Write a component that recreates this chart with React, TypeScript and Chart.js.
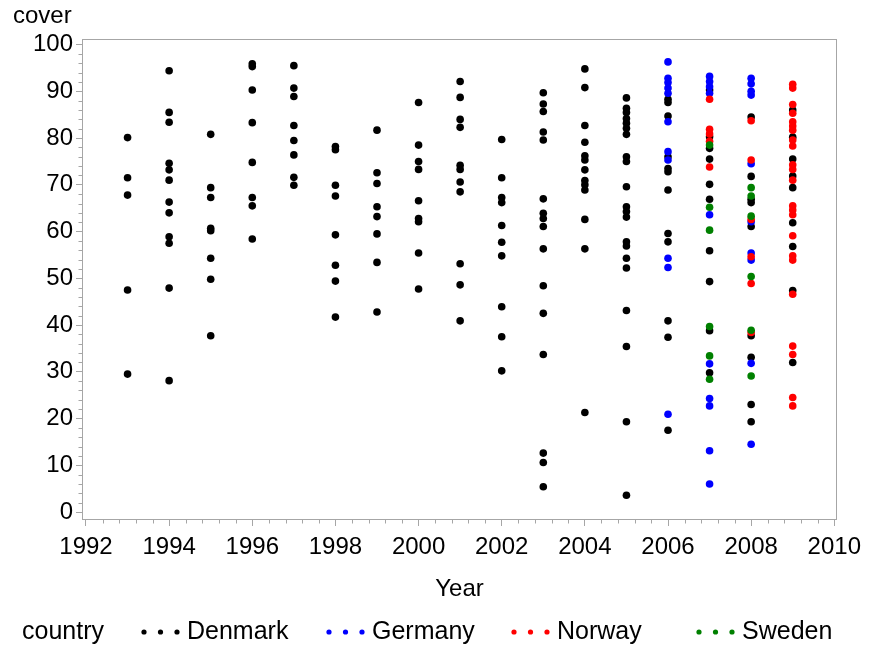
import { useEffect, useRef } from 'react';
import { Chart, registerables } from 'chart.js';

Chart.register(...registerables);

// ---------- data ----------
const denmarkYears = [1993, 1994, 1995, 1996, 1997, 1998, 1999, 2000, 2001, 2002, 2003, 2004, 2005, 2006, 2007, 2008, 2009];
const denmarkCover: number[][] = [
  [80.1, 71.5, 67.8, 47.5, 29.5],
  [94.4, 85.5, 83.4, 74.6, 73.2, 71.0, 66.3, 64.0, 58.9, 57.5, 47.9, 28.1],
  [80.8, 69.4, 67.3, 60.7, 60.2, 54.3, 49.8, 37.7],
  [95.9, 95.3, 90.3, 83.3, 74.8, 67.3, 65.5, 58.4],
  [95.5, 90.7, 88.9, 82.7, 79.5, 76.4, 71.6, 69.9],
  [78.2, 77.5, 69.9, 67.6, 59.3, 52.8, 49.4, 41.7],
  [81.7, 72.6, 70.3, 65.3, 63.2, 59.5, 53.4, 42.8],
  [87.6, 78.5, 75.0, 73.3, 66.6, 62.8, 62.1, 55.4, 47.7],
  [92.1, 88.7, 84.0, 82.3, 74.2, 73.3, 70.6, 68.5, 53.1, 48.6, 40.9],
  [79.7, 71.5, 67.3, 66.2, 61.3, 57.7, 54.8, 43.9, 37.5, 30.2],
  [89.7, 87.3, 85.7, 81.3, 79.6, 67.0, 63.9, 62.8, 61.1, 56.3, 48.4, 42.5, 33.7, 12.6, 10.6, 5.4],
  [94.8, 90.8, 82.7, 79.1, 76.2, 75.3, 73.2, 70.9, 70.0, 68.9, 62.6, 56.3, 21.3],
  [88.6, 86.4, 85.5, 84.2, 83.2, 82.1, 80.8, 76.0, 75.0, 69.6, 65.3, 64.3, 63.1, 57.8, 56.9, 54.3, 52.2, 43.1, 35.4, 19.3, 3.6],
  [88.3, 87.6, 84.7, 76.0, 73.5, 72.8, 68.9, 59.6, 57.8, 40.9, 37.4, 17.5],
  [90.3, 80.3, 77.8, 75.5, 70.1, 66.9, 55.9, 49.3, 38.8, 29.8],
  [84.5, 71.8, 66.9, 66.2, 61.1, 37.7, 33.1, 23.0, 19.3],
  [86.0, 80.2, 75.5, 71.9, 69.4, 61.9, 56.8, 47.4, 32.0],
];

const germanyYears = [2006, 2007, 2008];
const germanyCover: number[][] = [
  [96.3, 92.8, 91.9, 90.7, 89.6, 83.5, 77.1, 75.3, 54.3, 52.3, 20.9],
  [93.2, 92.1, 91.0, 89.6, 63.6, 31.7, 24.3, 22.7, 13.1, 6.0],
  [92.8, 91.6, 90.0, 89.2, 74.5, 62.1, 55.4, 53.9, 31.8, 14.5],
];

const norwayYears = [2007, 2008, 2009];
const norwayCover: number[][] = [
  [88.3, 81.9, 80.9, 79.3, 73.8],
  [83.7, 75.3, 62.6, 54.6, 48.9, 38.4],
  [91.5, 90.7, 87.2, 85.3, 83.5, 82.6, 81.7, 79.6, 78.3, 74.3, 73.3, 71.0, 65.5, 64.6, 63.6, 59.1, 54.8, 53.9, 46.6, 35.5, 33.7, 24.5, 22.7],
];

const swedenYears = [2007, 2008];
const swedenCover: number[][] = [
  [78.5, 65.2, 60.3, 39.7, 33.4, 28.4],
  [69.4, 67.6, 63.3, 50.4, 38.9, 29.1],
];

const countries = ['Denmark', 'Germany', 'Norway', 'Sweden'];
const countryColors = ['#000000', '#0000ff', '#ff0000', '#008000'];

const xTickValues = [1992, 1994, 1996, 1998, 2000, 2002, 2004, 2006, 2008, 2010];
const yTickValues = [0, 10, 20, 30, 40, 50, 60, 70, 80, 90, 100];

// ---------- styling ----------
const FONT = 'Arial, "Liberation Sans", sans-serif';
const AXIS_COLOR = '#a6a6a6';

function toPoints(years: number[], cover: number[][]) {
  const pts: { x: number; y: number }[] = [];
  years.forEach((yr, i) => cover[i].forEach((v) => pts.push({ x: yr, y: v })));
  return pts;
}

const extrasPlugin = {
  id: 'extras',
  afterDraw(chart: any) {
    const { ctx, chartArea: a, scales } = chart;
    const xs = scales.x;
    const ys = scales.y;
    ctx.save();
    // frame
    ctx.strokeStyle = AXIS_COLOR;
    ctx.lineWidth = 1;
    const l = Math.round(a.left) + 0.5;
    const t = Math.round(a.top) + 0.5;
    const r = Math.round(a.right) - 0.5;
    const b = Math.round(a.bottom) - 0.5;
    ctx.strokeRect(l, t, r - l, b - t);
    // minor ticks
    ctx.beginPath();
    for (let k = 0; k <= 45; k++) {
      if (k % 5 === 0) continue;
      const px = Math.round(xs.getPixelForValue(1992 + k * 0.4)) + 0.5;
      ctx.moveTo(px, b);
      ctx.lineTo(px, b + 4);
    }
    for (let k = 0; k <= 50; k++) {
      if (k % 5 === 0) continue;
      const py = Math.round(ys.getPixelForValue(k * 2)) + 0.5;
      ctx.moveTo(l, py);
      ctx.lineTo(l - 4, py);
    }
    ctx.stroke();

    // legend
    const ly = 632;
    ctx.font = `25px ${FONT}`;
    ctx.textBaseline = 'middle';
    ctx.textAlign = 'left';
    ctx.fillStyle = '#000';
    ctx.fillText('country', 22, ly);
    chart.data.datasets.forEach((ds: any, i: number) => {
      const cx = 144 + i * 185;
      ctx.fillStyle = ds.backgroundColor;
      for (let d = 0; d < 3; d++) {
        ctx.beginPath();
        ctx.arc(cx + d * 16.5, ly, 2.6, 0, Math.PI * 2);
        ctx.fill();
      }
      ctx.fillStyle = '#000';
      ctx.fillText(ds.label, cx + 43, ly);
    });
    ctx.restore();
  },
};

export default function App() {
  const ref = useRef<HTMLCanvasElement | null>(null);

  useEffect(() => {
    if (!ref.current) return;
    Chart.defaults.font.family = FONT;
    const sets = [
      toPoints(denmarkYears, denmarkCover),
      toPoints(germanyYears, germanyCover),
      toPoints(norwayYears, norwayCover),
      toPoints(swedenYears, swedenCover),
    ];
    const chart = new Chart(ref.current, {
      type: 'scatter',
      data: {
        datasets: countries.map((name, i) => ({
          label: name,
          data: sets[i],
          backgroundColor: countryColors[i],
          borderColor: countryColors[i],
          borderWidth: 0,
          pointRadius: 3.8,
          pointHoverRadius: 3.8,
          order: countries.length - i,
        })),
      },
      options: {
        animation: false,
        responsive: false,
        events: [],
        layout: { padding: { left: 13, right: 34, top: 0, bottom: 45.6 } },
        plugins: {
          legend: { display: false },
          tooltip: { enabled: false },
          title: {
            display: true,
            text: 'cover',
            align: 'start',
            color: '#000',
            font: { size: 24, weight: 'normal', family: FONT },
            padding: { top: 1.6, bottom: 8.6 },
          },
        },
        scales: {
          x: {
            type: 'linear',
            min: 1991.904,
            max: 2010.065,
            afterBuildTicks: (s: any) => {
              s.ticks = xTickValues.map((v) => ({ value: v }));
            },
            afterFit: (s: any) => {
              s.height = 83.4;
              s.paddingLeft = 0;
              s.paddingRight = 0;
            },
            ticks: {
              color: '#000',
              font: { size: 24, family: FONT },
              padding: 6.6,
              maxRotation: 0,
              autoSkip: false,
              callback: (v: any) => String(v),
            },
            grid: { drawOnChartArea: false, drawTicks: true, tickLength: 6, color: AXIS_COLOR, tickColor: AXIS_COLOR },
            border: { display: false },
            title: {
              display: true,
              text: 'Year',
              color: '#000',
              font: { size: 24, family: FONT },
              padding: { top: 0, bottom: 0 },
            },
          },
          y: {
            type: 'linear',
            min: -1.71,
            max: 101.2,
            afterBuildTicks: (s: any) => {
              s.ticks = yTickValues.map((v) => ({ value: v }));
            },
            afterFit: (s: any) => {
              s.width = 69;
              s.paddingTop = 0;
              s.paddingBottom = 0;
            },
            ticks: {
              color: '#000',
              font: { size: 24, family: FONT },
              padding: 3,
              autoSkip: false,
              callback: (v: any) => String(v),
            },
            grid: { drawOnChartArea: false, drawTicks: true, tickLength: 6, color: AXIS_COLOR, tickColor: AXIS_COLOR },
            border: { display: false },
          },
        },
      },
      plugins: [extrasPlugin],
    });
    return () => chart.destroy();
  }, []);

  return (
    <div style={{ position: 'absolute', left: 0, top: 0, width: 871, height: 649, background: '#fff' }}>
      <canvas ref={ref} width={871} height={649} style={{ display: 'block', width: 871, height: 649 }} />
    </div>
  );
}
